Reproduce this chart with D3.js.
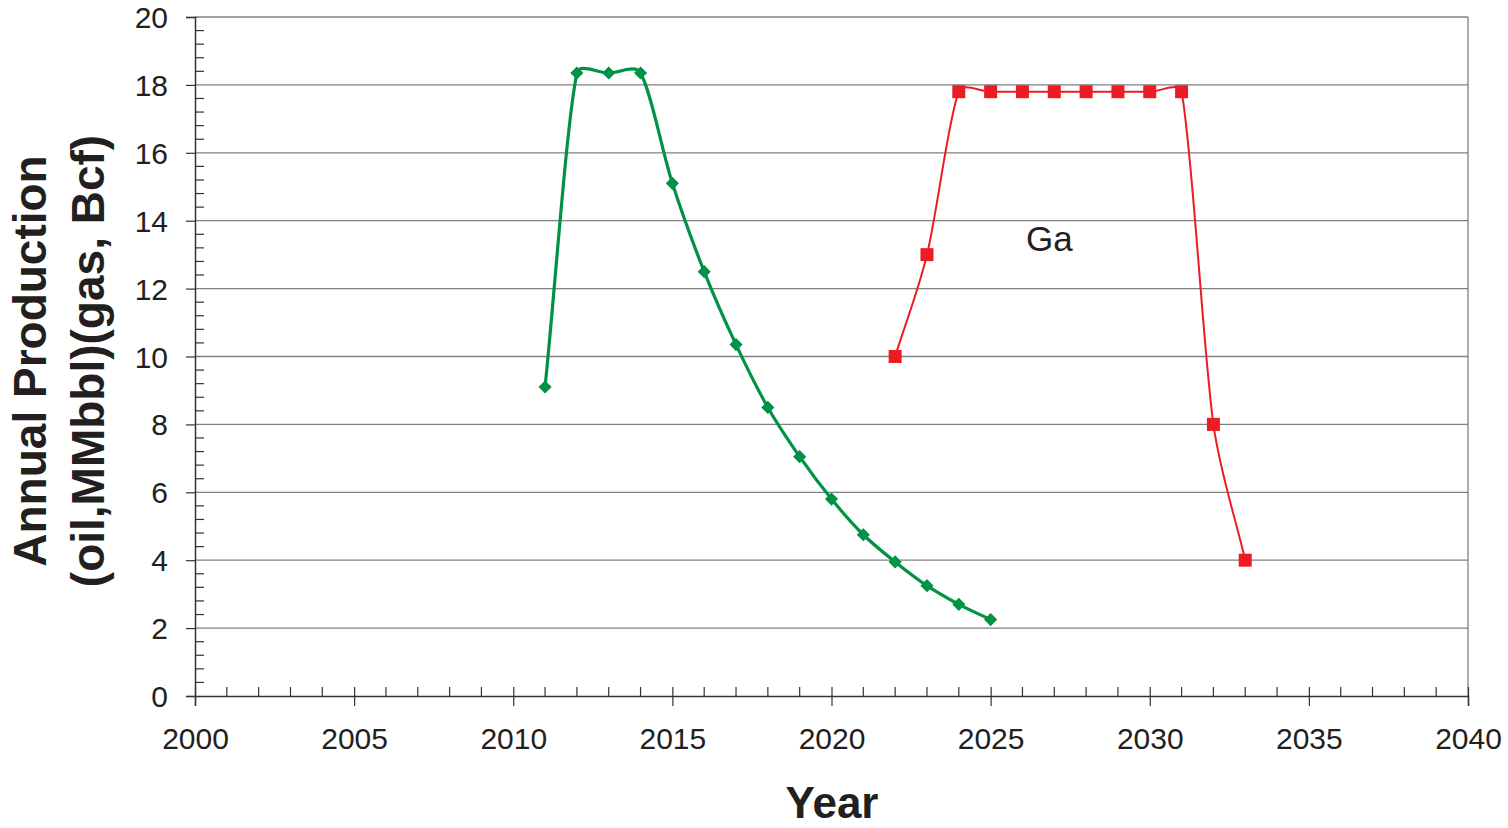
<!DOCTYPE html>
<html><head><meta charset="utf-8">
<script src="https://cdn.jsdelivr.net/npm/d3@7"></script>
<style>body{margin:0;background:#fff;} svg{display:block;font-family:"Liberation Sans",Arial,sans-serif;}</style>
</head><body>
<svg id="c" width="1508" height="828"></svg>
<script>
const oilYears = [2011,2012,2013,2014,2015,2016,2017,2018,2019,2020,2021,2022,2023,2024,2025];
const oilValues = [9.1,18.35,18.35,18.35,15.1,12.5,10.35,8.5,7.05,5.8,4.75,3.95,3.25,2.7,2.25];
const gasYears = [2022,2023,2024,2025,2026,2027,2028,2029,2030,2031,2032,2033];
const gasValues = [10,13,17.8,17.8,17.8,17.8,17.8,17.8,17.8,17.8,8,4];
const xTicks = [2000,2005,2010,2015,2020,2025,2030,2035,2040];
const yTicks = [0,2,4,6,8,10,12,14,16,18,20];
const gasLabel = "Ga";
const xTitle = "Year";
const yTitle = ["Annual Production","(oil,MMbbl)(gas, Bcf)"];

const svg = d3.select("#c");
const L=195, R=1468, T=17, B=696;
const x = d3.scaleLinear().domain([2000,2040]).range([L,R]);
const y = d3.scaleLinear().domain([0,20]).range([B,T]);

// gridlines
svg.append("g").selectAll("line").data(yTicks.filter(d=>d>0)).join("line")
  .attr("x1",L).attr("x2",R).attr("y1",d=>y(d)).attr("y2",d=>y(d))
  .attr("stroke","#808080").attr("stroke-width",1.3);
svg.append("line").attr("x1",R).attr("x2",R).attr("y1",T).attr("y2",B).attr("stroke","#808080").attr("stroke-width",1.3);

// minor ticks
const yMinor = d3.range(0,20.001,0.4).filter(v=>Math.abs(v/2-Math.round(v/2))>1e-6);
svg.append("g").selectAll("line").data(yMinor).join("line")
  .attr("x1",L).attr("x2",L+9).attr("y1",d=>y(d)).attr("y2",d=>y(d))
  .attr("stroke","#333").attr("stroke-width",1.2);
const xMinor = d3.range(2000,2041,1).filter(v=>v%5!==0);
svg.append("g").selectAll("line").data(xMinor).join("line")
  .attr("x1",d=>x(d)).attr("x2",d=>x(d)).attr("y1",B).attr("y2",B-9)
  .attr("stroke","#333").attr("stroke-width",1.2);

// axes
const yAxis = svg.append("g").attr("transform",`translate(${L},0)`)
  .call(d3.axisLeft(y).tickValues(yTicks).tickSize(9).tickPadding(18).tickFormat(d3.format("d")));
const xAxis = svg.append("g").attr("transform",`translate(0,${B})`)
  .call(d3.axisBottom(x).tickValues(xTicks).tickSize(10).tickPadding(24).tickFormat(d3.format("d")));
[yAxis,xAxis].forEach(g=>{
  g.select(".domain").attr("stroke","#333").attr("stroke-width",1.5);
  g.selectAll(".tick line").attr("stroke","#333").attr("stroke-width",1.2);
  g.selectAll(".tick text").attr("font-size",30).attr("fill","#231f20").attr("font-family","Liberation Sans, Arial, sans-serif");
});
xAxis.selectAll(".tick line").attr("y1",-9).attr("y2",10);
yAxis.selectAll(".tick line").attr("x1",0).attr("x2",-9);
yAxis.selectAll(".tick text").attr("dy","0.35em");
xAxis.selectAll(".tick text").attr("dy","0.62em");

// Excel-like smoothing: Catmull-Rom tangents, arms limited to 1/3 of segment length
function smoothPath(pts){
  const p = d3.path();
  const n = pts.length;
  const tan = pts.map((d,i)=>{
    const a = pts[Math.max(0,i-1)], b = pts[Math.min(n-1,i+1)];
    const f = (i===0||i===n-1) ? 1/3 : 1/6;
    return [(b[0]-a[0])*f,(b[1]-a[1])*f];
  });
  p.moveTo(pts[0][0],pts[0][1]);
  for(let i=0;i<n-1;i++){
    const a=pts[i], b=pts[i+1];
    const seg = Math.hypot(b[0]-a[0],b[1]-a[1]);
    const lim = seg/3;
    const ta=tan[i], tb=tan[i+1];
    const la=Math.hypot(ta[0],ta[1])||1, lb=Math.hypot(tb[0],tb[1])||1;
    const sa=Math.min(1,lim/la), sb=Math.min(1,lim/lb);
    p.bezierCurveTo(a[0]+ta[0]*sa,a[1]+ta[1]*sa,b[0]-tb[0]*sb,b[1]-tb[1]*sb,b[0],b[1]);
  }
  return p.toString();
}

const oil = oilYears.map((d,i)=>[d,oilValues[i]]);
const gas = gasYears.map((d,i)=>[d,gasValues[i]]);
const scr = arr => arr.map(d=>[x(d[0]),y(d[1])]);

svg.append("path").attr("d",smoothPath(scr(gas))).attr("fill","none").attr("stroke","#ed1c24").attr("stroke-width",2);
svg.append("path").attr("d",smoothPath(scr(oil))).attr("fill","none").attr("stroke","#009245").attr("stroke-width",3.2);

svg.append("g").selectAll("path").data(oil).join("path")
  .attr("d",d3.symbol().type(d3.symbolDiamond2 || d3.symbolDiamond).size(110))
  .attr("transform",d=>`translate(${x(d[0])},${y(d[1])})`)
  .attr("fill","#009245");
svg.append("g").selectAll("rect").data(gas).join("rect")
  .attr("x",d=>x(d[0])-6.5).attr("y",d=>y(d[1])-6.5).attr("width",13).attr("height",13)
  .attr("fill","#ed1c24");

svg.append("text").attr("x",1026).attr("y",251).attr("font-size",35).attr("fill","#231f20").text(gasLabel);

svg.append("text").attr("x",832).attr("y",818).attr("text-anchor","middle")
  .attr("font-size",44).attr("font-weight","bold").attr("fill","#231f20").text(xTitle);

const yt = svg.append("text").attr("transform","translate(46,361) rotate(-90)").attr("text-anchor","middle")
  .attr("font-size",46).attr("font-weight","bold").attr("fill","#231f20");
yt.append("tspan").attr("x",0).attr("y",0).text(yTitle[0]);
yt.append("tspan").attr("x",0).attr("y",58).text(yTitle[1]);
</script>
</body></html>
